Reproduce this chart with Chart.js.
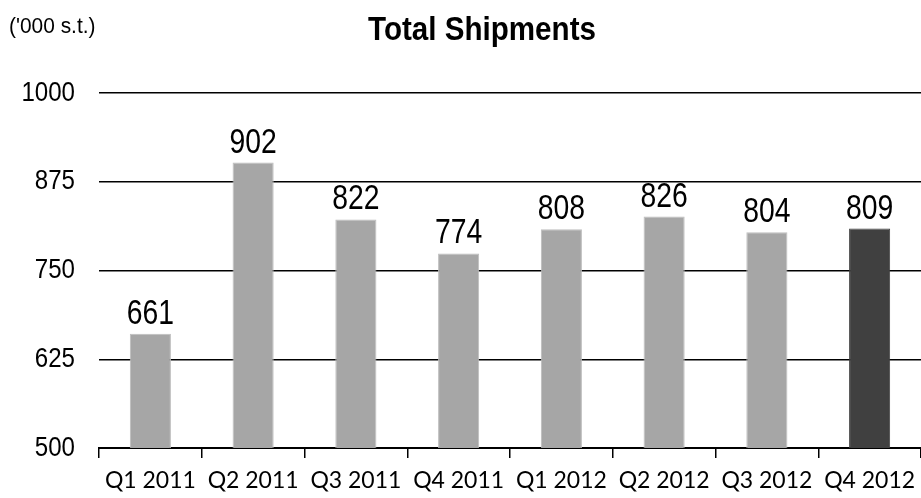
<!DOCTYPE html>
<html lang="en">
<head>
  <meta charset="UTF-8">
  <title>Total Shipments</title>
  <script src="https://cdn.jsdelivr.net/npm/chart.js"></script>
  <style>
    html, body { margin: 0; padding: 0; background: #fff; }
    #wrap { width: 921px; height: 498px; position: relative; }
  </style>
</head>
<body>
  <div id="wrap"><canvas id="shipments"></canvas></div>
  <script>
    // quarterly shipments, thousand short tons
    const quarters = ['Q1 2011', 'Q2 2011', 'Q3 2011', 'Q4 2011', 'Q1 2012', 'Q2 2012', 'Q3 2012', 'Q4 2012'];
    const shipments = [661, 902, 822, 774, 808, 826, 804, 809];
    const yTicks = [500, 625, 750, 875, 1000];

    const SANS = '"Liberation Sans", Arial, sans-serif';

    // latest quarter is highlighted in dark grey
    const barColors = shipments.map((v, i) => i === shipments.length - 1 ? '#404040' : '#a6a6a6');

    // no narrow face installed, so squeeze the regular one horizontally
    function narrowText(ctx, text, x, y, sx) {
      ctx.save();
      ctx.translate(x, y);
      ctx.scale(sx, 1);
      ctx.fillText(text, 0, 0);
      ctx.restore();
    }

    // title, unit note, y tick labels and the value above each bar
    const annotations = {
      id: 'annotations',
      afterDatasetsDraw(chart) {
        const ctx = chart.ctx;
        ctx.save();
        ctx.fillStyle = '#000';
        ctx.textBaseline = 'alphabetic';

        ctx.textAlign = 'center';
        ctx.font = 'bold 34px ' + SANS;
        narrowText(ctx, 'Total Shipments', 482, 40, 0.87);

        ctx.textAlign = 'left';
        ctx.font = '22px ' + SANS;
        narrowText(ctx, "('000 s.t.)", 9, 33, 0.95);

        const y = chart.scales.y;
        ctx.textAlign = 'right';
        ctx.textBaseline = 'middle';
        ctx.font = '28px ' + SANS;
        yTicks.forEach(v => narrowText(ctx, String(v), 75, y.getPixelForValue(v), 0.86));

        ctx.textAlign = 'center';
        ctx.textBaseline = 'alphabetic';
        ctx.font = '35px ' + SANS;
        chart.getDatasetMeta(0).data.forEach((bar, i) => {
          narrowText(ctx, String(shipments[i]), bar.x, bar.y - 10, 0.81);
        });
        ctx.restore();
      }
    };

    new Chart(document.getElementById('shipments'), {
      type: 'bar',
      data: {
        labels: quarters,
        datasets: [{
          data: shipments,
          backgroundColor: barColors,
          borderColor: barColors.map(c => c === '#a6a6a6' ? '#bdbdbd' : '#404040'),
          borderWidth: 1,
          barPercentage: 0.4,
          categoryPercentage: 1.0
        }]
      },
      options: {
        responsive: true,
        maintainAspectRatio: false,
        animation: false,
        // plot runs a few pixels past the right edge
        layout: { padding: { top: 93, right: -4, left: 0, bottom: 0 } },
        plugins: {
          legend: { display: false },
          tooltip: { enabled: false }
        },
        scales: {
          x: {
            offset: true,
            grid: {
              offset: true,
              drawOnChartArea: false,
              drawTicks: true,
              tickLength: 10,
              color: '#000',
              lineWidth: 1.5
            },
            border: { display: true, color: '#000', width: 2 },
            ticks: {
              color: '#000',
              padding: 9,
              maxRotation: 0,
              font: { family: 'Lato', size: 23 }
            },
            afterFit(scale) {
              scale.height = 50;
              scale.paddingLeft = 0;
              scale.paddingRight = 0;
            }
          },
          y: {
            min: 500,
            max: 1000,
            afterBuildTicks(scale) { scale.ticks = yTicks.map(v => ({ value: v })); },
            grid: {
              drawTicks: false,
              color: ctx => ctx.tick && ctx.tick.value === 500 ? 'rgba(0,0,0,0)' : '#000',
              lineWidth: 1.5
            },
            border: { display: false },
            ticks: { display: false },
            afterFit(scale) { scale.width = 99; }
          }
        }
      },
      plugins: [annotations]
    });
  </script>
</body>
</html>
